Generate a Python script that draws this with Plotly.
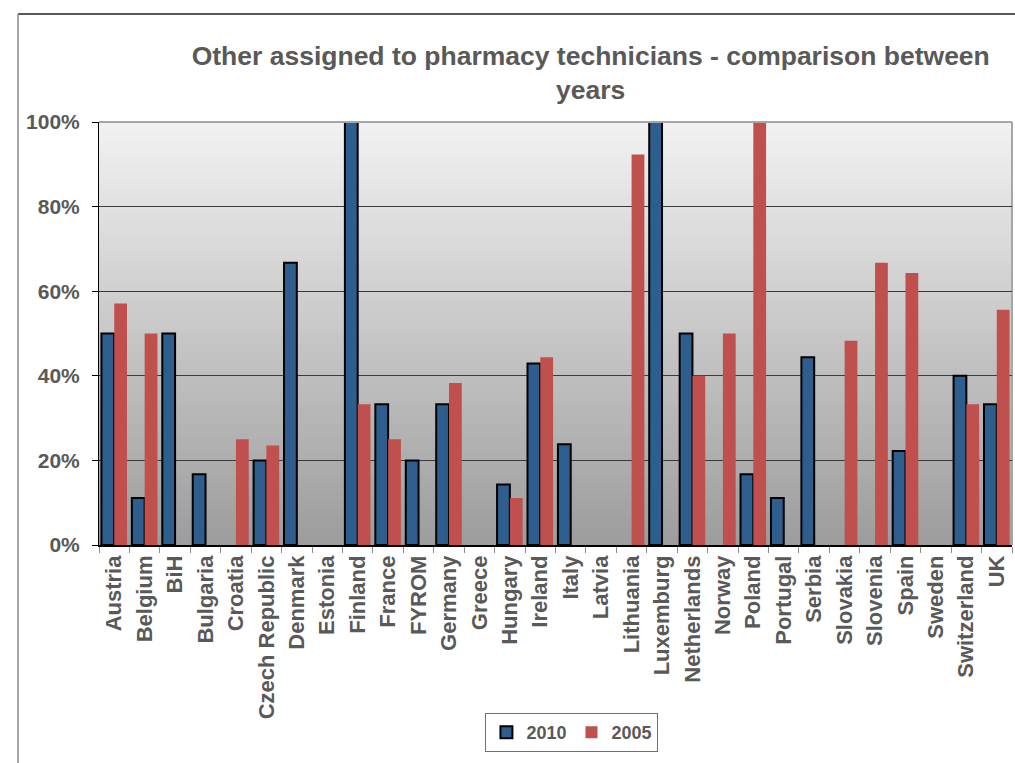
import plotly.graph_objects as go

categories = ["Austria", "Belgium", "BiH", "Bulgaria", "Croatia", "Czech Republic", "Denmark",
              "Estonia", "Finland", "France", "FYROM", "Germany", "Greece", "Hungary", "Ireland",
              "Italy", "Latvia", "Lithuania", "Luxemburg", "Netherlands", "Norway", "Poland",
              "Portugal", "Serbia", "Slovakia", "Slovenia", "Spain", "Sweden", "Switzerland", "UK"]

values_2010 = [0.50, 0.111, 0.50, 0.167, None, 0.20, 0.667,
               None, 1.00, 0.333, 0.20, 0.333, None, 0.143, 0.429,
               0.238, None, None, 1.00, 0.50, None, 0.167,
               0.111, 0.444, None, None, 0.222, None, 0.40, 0.333]

values_2005 = [0.571, 0.50, None, None, 0.25, 0.235, None,
               None, 0.333, 0.25, None, 0.383, None, 0.111, 0.444,
               None, None, 0.923, None, 0.40, 0.50, 1.00,
               None, None, 0.483, 0.667, 0.643, None, 0.333, 0.556]

series_names = ["2010", "2005"]
title_text = "Other assigned to pharmacy technicians - comparison between<br>years"

FONT = "Liberation Sans, Arial, sans-serif"
TXT = "#595959"

fig = go.Figure()
fig.add_trace(go.Bar(x=categories, y=values_2010, name=series_names[0],
                     marker=dict(color="#2E5E8E", line=dict(color="#000000", width=2))))
fig.add_trace(go.Bar(x=categories, y=values_2005, name=series_names[1],
                     marker=dict(color="#C0504D", line=dict(width=0))))

shapes = []
# stepped vertical gradient for plot background
N = 80
top = (0xF2, 0xF2, 0xF2)
bot = (0x9C, 0x9C, 0x9C)
for i in range(N):
    t = (i + 0.5) / N  # 0 at bottom
    c = [round(bot[k] + (top[k] - bot[k]) * t) for k in range(3)]
    shapes.append(dict(type="rect", xref="x domain", yref="y domain",
                       x0=0, x1=1, y0=i / N, y1=(i + 1) / N + 0.002,
                       fillcolor="rgb(%d,%d,%d)" % tuple(c), line=dict(width=0),
                       layer="below"))
# top and right plot borders
shapes.append(dict(type="line", xref="x domain", yref="y domain", x0=0, x1=1, y0=1, y1=1,
                   line=dict(color="#A6A6A6", width=2), layer="above"))
shapes.append(dict(type="line", xref="x domain", yref="y domain", x0=1, x1=1, y0=0, y1=1,
                   line=dict(color="#A6A6A6", width=2), layer="below"))
# outer chart frame (partially visible)
shapes.append(dict(type="line", xref="paper", yref="paper", x0=-0.0887, x1=1.01, y0=1.2553, y1=1.2553,
                   line=dict(color="#222222", width=1.5)))
shapes.append(dict(type="line", xref="paper", yref="paper", x0=-0.0887, x1=-0.0887, y0=1.2553, y1=-0.52,
                   line=dict(color="#8C8C8C", width=1.5)))

fig.update_layout(
    width=1015, height=763,
    margin=dict(l=99, r=3, t=122, b=218),
    paper_bgcolor="white", plot_bgcolor="#C8C8C8",
    barmode="group", bargap=0.16, bargroupgap=0,
    title=dict(text=title_text, x=0.582, xanchor="center", y=0.915, yanchor="top",
               font=dict(family=FONT, size=26.5, color=TXT, weight="bold"),
               ),
    font=dict(family=FONT, color=TXT),
    legend=dict(orientation="h", x=0.518, xanchor="center", y=-0.397, yanchor="top",
                bordercolor="#707070", borderwidth=1, bgcolor="white",
                font=dict(family=FONT, size=18, color=TXT, weight="bold"),
                itemwidth=30, traceorder="normal"),
    shapes=shapes,
    showlegend=True,
)

fig.update_yaxes(range=[0, 1], dtick=0.2, tickformat=".0%", showgrid=True,
                 gridcolor="#3A3A3A", gridwidth=1, showline=True, linecolor="#000000", linewidth=1,
                 ticks="outside", ticklen=6, tickcolor="#000000", zeroline=False,
                 ticklabelstandoff=8,
                 tickfont=dict(family=FONT, size=21, color=TXT, weight="bold"))
fig.update_xaxes(tickangle=-90, showline=True, linecolor="#000000", linewidth=1.5,
                 ticks="outside", ticklen=6, tickcolor="#8C8C8C", tickson="boundaries",
                 showgrid=False,
                 tickfont=dict(family=FONT, size=22, color=TXT, weight="bold"))

fig.write_html("out.html", config={"displayModeBar": False},
               post_script="document.body.style.margin='0';")
